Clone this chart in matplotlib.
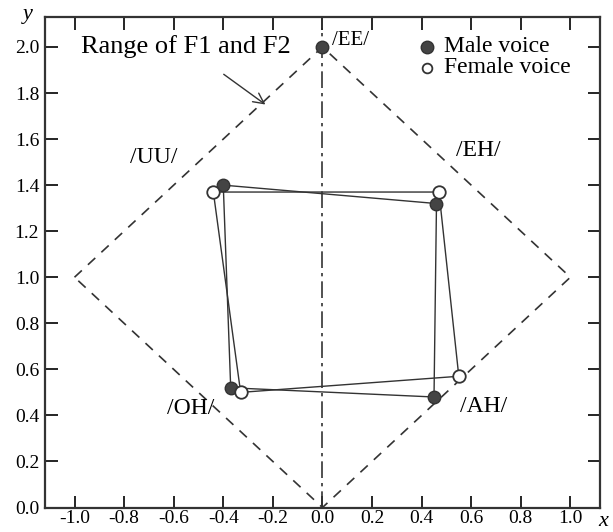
import matplotlib
matplotlib.use("Agg")
import matplotlib.pyplot as plt

plt.rcParams['font.family'] = ['Liberation Serif', 'DejaVu Serif']

# vowel positions (UU, EH, AH, OH)
vowels = ['/UU/', '/EH/', '/AH/', '/OH/']
male_x = [-0.40, 0.46, 0.45, -0.37]
male_y = [1.40, 1.32, 0.48, 0.52]
female_x = [-0.44, 0.47, 0.55, -0.33]
female_y = [1.37, 1.37, 0.57, 0.50]
ee_x, ee_y = 0.0, 2.0

# F1/F2 range boundary
range_x = [-1.0, 0.0, 1.0, 0.0, -1.0]
range_y = [1.0, 2.0, 1.0, 0.0, 1.0]

xticks = [-1.0, -0.8, -0.6, -0.4, -0.2, 0.0, 0.2, 0.4, 0.6, 0.8, 1.0]
yticks = [0.0, 0.2, 0.4, 0.6, 0.8, 1.0, 1.2, 1.4, 1.6, 1.8, 2.0]

fig = plt.figure(figsize=(6.13, 5.32), dpi=100)
ax = fig.add_axes([0.073, 0.046, 0.906, 0.922])

ax.plot(range_x, range_y, color='#333', lw=1.2, ls=(0, (6, 5)))
ax.axvline(0.0, color='#333', lw=1.2, ls=(0, (10, 3, 2, 3)))

# closed quads for each voice
ax.plot(male_x + male_x[:1], male_y + male_y[:1], color='#333', lw=1.0)
ax.plot(female_x + female_x[:1], female_y + female_y[:1], color='#333', lw=1.0)
ax.plot(male_x + [ee_x], male_y + [ee_y], 'o', ms=9, color='#444', mec='#333', zorder=5)
ax.plot(female_x, female_y, 'o', ms=9, mfc='white', mec='#333', mew=1.3, zorder=5)

fs = 17
ax.text(0.04, 2.03, '/EE/', fontsize=fs - 2, va='center', ha='left')
ax.text(-0.68, 1.52, '/UU/', fontsize=fs, va='center', ha='center')
ax.text(0.63, 1.55, '/EH/', fontsize=fs, va='center', ha='center')
ax.text(-0.53, 0.43, '/OH/', fontsize=fs, va='center', ha='center')
ax.text(0.65, 0.44, '/AH/', fontsize=fs, va='center', ha='center')

ax.annotate('Range of F1 and F2', xy=(-0.23, 1.75), xytext=(-0.55, 2.0),
            fontsize=fs + 2, ha='center', va='center',
            arrowprops=dict(arrowstyle='->', color='#333', lw=1.0,
                            shrinkA=16, shrinkB=0))

# legend drawn as plain markers + text
ax.plot([0.42], [2.0], 'o', ms=9, color='#444', mec='#333')
ax.plot([0.42], [1.91], 'o', ms=7, mfc='white', mec='#333', mew=1.3)
ax.text(0.49, 2.0, 'Male voice', fontsize=fs, va='center')
ax.text(0.49, 1.91, 'Female voice', fontsize=fs, va='center')

ax.set_xlim(-1.12, 1.12)
ax.set_ylim(0.0, 2.13)
ax.set_xticks(xticks)
ax.set_yticks(yticks)
ax.set_xticklabels(['%.1f' % v for v in xticks], fontsize=14)
ax.set_yticklabels(['%.1f' % v for v in yticks], fontsize=14)
ax.tick_params(direction='in', length=9, width=1.2, top=True, right=True, pad=4)
ax.tick_params(axis='x', pad=2)
for s in ax.spines.values():
    s.set_linewidth(1.6)
    s.set_color('#333')

fig.text(0.992, 0.002, 'x', fontsize=16, style='italic', ha='right', va='bottom')
fig.text(0.045, 0.972, 'y', fontsize=16, style='italic', ha='center', va='center')

fig.savefig('out.png', dpi=100)
